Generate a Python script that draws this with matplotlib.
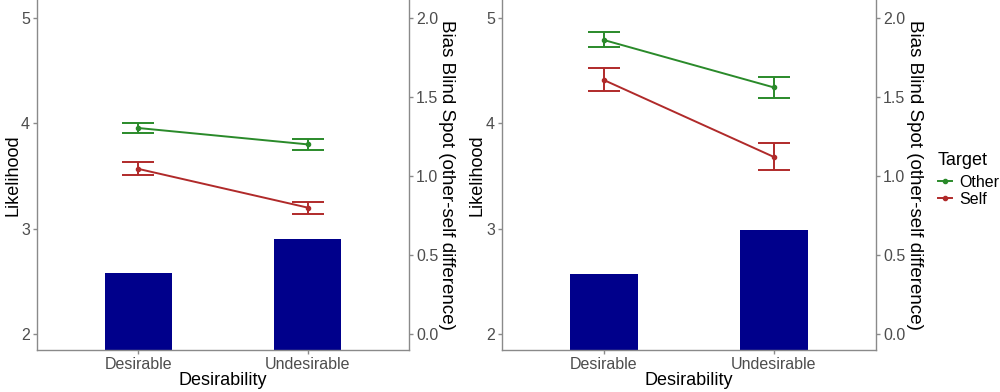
import matplotlib.pyplot as plt
import numpy as np

plt.rcParams['font.family'] = ['Liberation Sans', 'DejaVu Sans']

categories = ['Desirable', 'Undesirable']

# panel 1 (left)
other_mean_1 = [3.955, 3.80]
other_low_1 = [3.91, 3.75]
other_high_1 = [4.00, 3.85]
self_mean_1 = [3.567, 3.20]
self_low_1 = [3.51, 3.14]
self_high_1 = [3.63, 3.25]
bbs_1 = [0.387, 0.60]

# panel 2 (right)
other_mean_2 = [4.79, 4.34]
other_low_2 = [4.72, 4.24]
other_high_2 = [4.87, 4.44]
self_mean_2 = [4.41, 3.68]
self_low_2 = [4.31, 3.56]
self_high_2 = [4.52, 3.81]
bbs_2 = [0.38, 0.66]

green = '#2A8A2A'
red = '#B02A2A'
navy = '#00008B'
axis_grey = '#8A8A8A'
text_grey = '#4D4D4D'

ylo, yhi = 1.848, 5.17


def draw_panel(fig, rect, other, self_, bbs):
    ax = fig.add_axes(rect)
    ax2 = ax.twinx()
    x = np.arange(1, len(categories) + 1)

    ax2.bar(x, bbs, width=0.4, bottom=0, color=navy)
    # bars start below the visible range, like the original
    ax2.bar(x, [0.2] * len(x), width=0.4, bottom=-0.2, color=navy)
    ax2.set_ylim((ylo - 2) / 1.5, (yhi - 2) / 1.5)
    ax2.set_yticks([0, 0.5, 1.0, 1.5, 2.0])
    ax2.set_yticklabels(['0.0', '0.5', '1.0', '1.5', '2.0'])

    for (mean, lo, hi), col in zip([other, self_], [green, red]):
        mean = np.array(mean)
        yerr = [mean - np.array(lo), np.array(hi) - mean]
        ax.errorbar(x, mean, yerr=yerr, color=col, lw=1.4, capsize=11.5,
                    capthick=1.4, elinewidth=1.4, marker='o', ms=3,
                    mfc=col, mec=col, zorder=3)

    ax.set_zorder(ax2.get_zorder() + 1)
    ax.patch.set_visible(False)
    ax.set_xlim(0.4, 2.6)
    ax.set_ylim(ylo, yhi)
    ax.set_yticks([2, 3, 4, 5])
    ax.set_xticks(x)
    ax.set_xticklabels(categories)

    for a in (ax, ax2):
        for s in a.spines.values():
            s.set_color(axis_grey)
            s.set_linewidth(1.0)
        a.spines['top'].set_visible(False)
        a.tick_params(colors=axis_grey, labelcolor=text_grey, labelsize=11.5,
                      length=3, width=1.0, pad=2)
    ax.spines['right'].set_visible(False)
    ax2.spines['left'].set_visible(False)
    ax2.spines['bottom'].set_visible(False)

    ax.set_xlabel('Desirability', fontsize=13)
    ax.xaxis.set_label_coords(0.5, -0.062)
    ax.set_ylabel('Likelihood', fontsize=13)
    ax.yaxis.set_label_coords(-0.043, 0.5)
    ax2.set_ylabel('Bias Blind Spot (other-self difference)', fontsize=13.5,
                   rotation=-90, va='center')
    ax2.yaxis.set_label_coords(1.102, 0.5)
    return ax


fig = plt.figure(figsize=(10, 3.92), dpi=100)

draw_panel(fig, [0.037, 0.107, 0.372, 0.893],
           (other_mean_1, other_low_1, other_high_1),
           (self_mean_1, self_low_1, self_high_1), bbs_1)
draw_panel(fig, [0.502, 0.107, 0.374, 0.893],
           (other_mean_2, other_low_2, other_high_2),
           (self_mean_2, self_low_2, self_high_2), bbs_2)

handles = [plt.Line2D([], [], color=green, lw=1.4, marker='o', ms=3),
           plt.Line2D([], [], color=red, lw=1.4, marker='o', ms=3)]
leg = fig.legend(handles, ['Other', 'Self'], title='Target', loc='upper left',
                 bbox_to_anchor=(0.938, 0.612), frameon=False, fontsize=11.5,
                 title_fontsize=13, handlelength=0.9, handletextpad=0.45,
                 labelspacing=0.12, borderpad=0, borderaxespad=0)
leg._legend_box.align = 'left'
leg._legend_box.sep = 4

fig.savefig('out.png', dpi=100)
